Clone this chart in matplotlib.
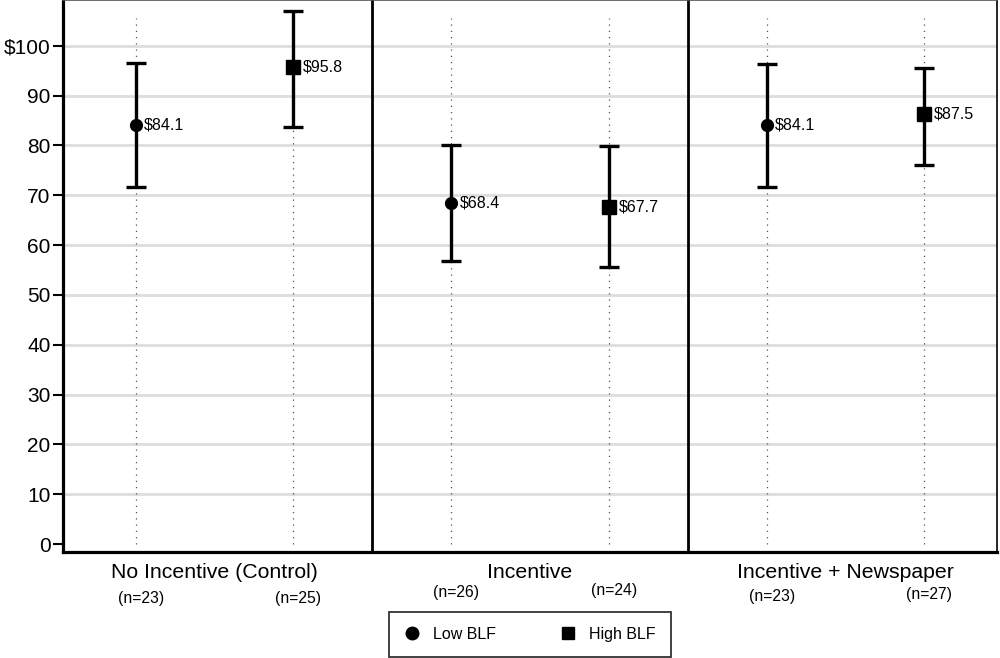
import matplotlib
matplotlib.use('Agg')
import matplotlib.pyplot as plt
from matplotlib.lines import Line2D

plt.rcParams['font.family'] = ['Liberation Sans', 'DejaVu Sans']

# Data ####################################################
groups = ['No Incentive (Control)', 'Incentive', 'Incentive + Newspaper']
series = ['Low BLF', 'High BLF']
point_vals = [84.1, 95.8, 68.4, 67.7, 84.1, 86.4]
ci_low = [71.7, 83.8, 56.9, 55.7, 71.7, 76.1]
ci_high = [96.6, 107.0, 80.0, 79.8, 96.4, 95.6]
value_labels = ['$84.1', '$95.8', '$68.4', '$67.7', '$84.1', '$87.5']
n_labels = ['(n=23)', '(n=25)', '(n=26)', '(n=24)', '(n=23)', '(n=27)']
yticks = [0, 10, 20, 30, 40, 50, 60, 70, 80, 90, 100]
ytick_labels = ['0', '10', '20', '30', '40', '50', '60', '70', '80', '90', '$100']
###########################################################

W, H = 1000, 658
fig = plt.figure(figsize=(W / 100, H / 100), dpi=100)
ax = fig.add_axes([63 / W, 1 - 552 / H, (997 - 63) / W, 552 / H])

xs = list(range(len(point_vals)))
ax.set_xlim(-0.46, 5.46)
ax.set_ylim(-1.6, 109.2)

# grid
for t in yticks[1:]:
    ax.axhline(t, color='#dddddd', lw=2, zorder=0)

# dotted guide lines
for x in xs:
    ax.plot([x, x], [0, 105.6], ls=(0, (1, 4)), color='#555555', lw=0.9, zorder=1)

# panel dividers
for d in [1.5, 3.5]:
    ax.axvline(d, color='black', lw=2, zorder=2)

markers = ['o', 's']
msizes = [8.5, 9.5]
for i, x in enumerate(xs):
    k = i % 2
    y = point_vals[i]
    ax.errorbar(x, y, yerr=[[y - ci_low[i]], [ci_high[i] - y]], fmt='none',
                ecolor='black', elinewidth=2.4, capsize=7.5, capthick=2.4, zorder=3)
    ax.plot(x, y, marker=markers[k], color='black', ms=msizes[k], ls='none', zorder=4)
    ax.annotate(value_labels[i], (x, y), xytext=(6 + k, 0), textcoords='offset points',
                va='center', ha='left', fontsize=11.5, zorder=5)

ax.set_yticks(yticks)
ax.set_yticklabels(ytick_labels, fontsize=15)
ax.tick_params(axis='y', length=7, width=1.5, pad=2)
ax.set_xticks([])

ax.spines['left'].set_linewidth(2.3)
ax.spines['bottom'].set_linewidth(2.3)
ax.spines['right'].set_linewidth(1.2)
ax.spines['top'].set_linewidth(1.2)
ax.spines['top'].set_color('#555555')

# group labels
for g, name in enumerate(groups):
    fig.text((ax.transData.transform((2 * g + 0.5, 0))[0]) / W, 1 - 573 / H, name,
             ha='center', va='center', fontsize=15.3)

n_y = [598, 598, 592, 590, 596, 594]
for i, lab in enumerate(n_labels):
    px = ax.transData.transform((xs[i], 0))[0] + 5
    fig.text(px / W, 1 - n_y[i] / H, lab, ha='center', va='center', fontsize=11.3)

handles = [Line2D([], [], marker='o', color='black', ls='none', ms=9),
           Line2D([], [], marker='s', color='black', ls='none', ms=9)]
leg = fig.legend(handles, series, loc='center', bbox_to_anchor=(530 / W, 1 - 634.5 / H),
                 ncol=2, fontsize=11.5, frameon=True, fancybox=False, edgecolor='black',
                 handletextpad=0.8, columnspacing=4.0, borderpad=0.95, handlelength=1.0,
                 borderaxespad=0)
leg.get_frame().set_linewidth(1.3)

fig.savefig('out.png', dpi=100)
